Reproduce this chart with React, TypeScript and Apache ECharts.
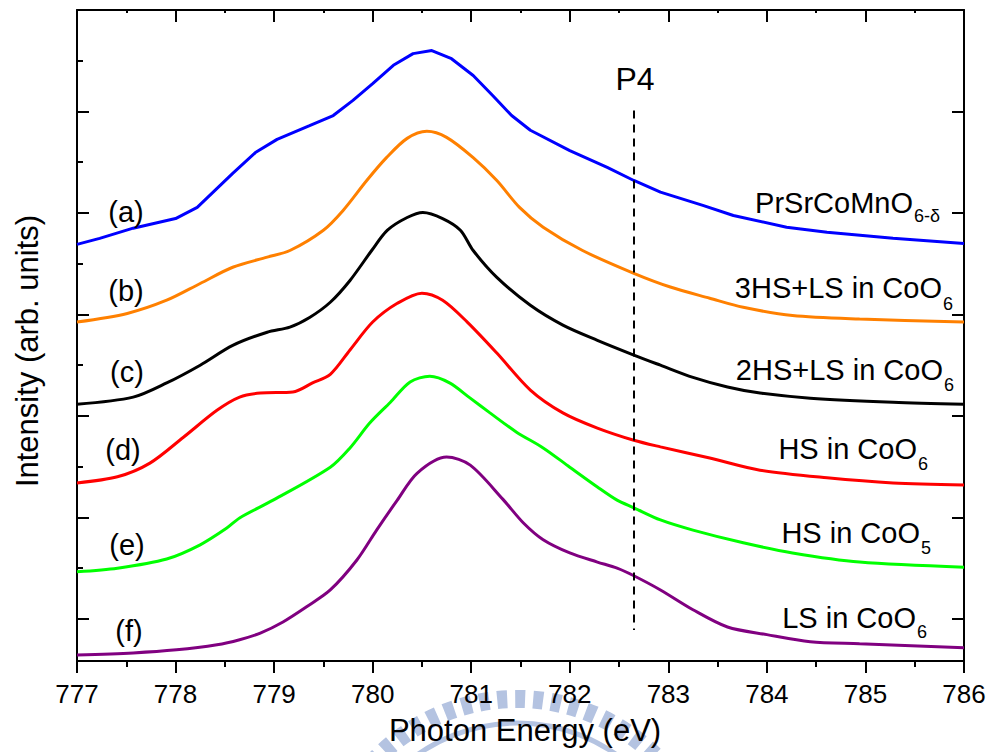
import React, { useEffect, useRef } from "react";
import * as echarts from "echarts";

// ---- data (Photon energy eV, intensity arb. units, offset stacked) ----
const energyA = [777.0, 777.23, 777.57, 778.0, 778.22, 778.58, 778.81, 779.03, 779.36, 779.6, 779.8, 780.0, 780.21, 780.41, 780.6, 780.8, 781.02, 781.22, 781.41, 781.6, 782.0, 782.38, 782.65, 782.92, 783.35, 783.66, 784.2, 784.61, 785.28, 786.0];
const intensityA = [7.38, 7.5, 7.7, 7.89, 8.11, 8.78, 9.19, 9.45, 9.72, 9.92, 10.22, 10.55, 10.91, 11.14, 11.2, 11.04, 10.71, 10.31, 9.92, 9.63, 9.23, 8.9, 8.64, 8.41, 8.15, 7.95, 7.72, 7.62, 7.5, 7.4];

const energyB = [777.0, 777.51, 777.91, 778.25, 778.58, 778.93, 779.16, 779.5, 779.7, 779.94, 780.14, 780.35, 780.55, 780.75, 781.02, 781.26, 781.49, 781.73, 782.13, 782.65, 783.02, 783.42, 783.76, 784.26, 784.94, 786.0];
const intensityB = [5.85, 6.02, 6.28, 6.61, 6.93, 7.13, 7.26, 7.66, 8.05, 8.64, 9.09, 9.47, 9.61, 9.49, 9.09, 8.64, 8.11, 7.72, 7.26, 6.81, 6.54, 6.32, 6.14, 5.98, 5.91, 5.85];

const energyC = [777.0, 777.57, 777.91, 778.25, 778.58, 778.93, 779.16, 779.36, 779.57, 779.77, 779.99, 780.15, 780.35, 780.51, 780.71, 780.89, 781.02, 781.26, 781.6, 781.93, 782.28, 782.65, 782.92, 783.25, 783.6, 783.93, 784.44, 785.28, 786.0];
const intensityC = [4.23, 4.37, 4.65, 5.0, 5.39, 5.65, 5.75, 5.94, 6.24, 6.67, 7.26, 7.66, 7.91, 8.01, 7.89, 7.66, 7.26, 6.73, 6.18, 5.79, 5.49, 5.2, 5.0, 4.76, 4.57, 4.45, 4.35, 4.27, 4.23];

const energyD = [777.0, 777.41, 777.74, 778.08, 778.42, 778.65, 778.86, 779.19, 779.39, 779.57, 779.77, 780.0, 780.25, 780.5, 780.71, 780.96, 781.26, 781.6, 781.93, 782.28, 782.65, 782.92, 783.42, 783.93, 784.61, 785.28, 786.0];
const intensityD = [2.68, 2.8, 3.07, 3.58, 4.11, 4.37, 4.45, 4.47, 4.65, 4.82, 5.3, 5.85, 6.22, 6.42, 6.28, 5.85, 5.24, 4.51, 4.06, 3.76, 3.52, 3.39, 3.17, 2.93, 2.78, 2.68, 2.64];

const energyE = [777.0, 777.41, 777.91, 778.25, 778.52, 778.65, 778.99, 779.57, 779.77, 779.97, 780.18, 780.38, 780.58, 780.78, 780.99, 781.19, 781.46, 781.73, 782.0, 782.28, 782.48, 782.65, 782.92, 783.25, 783.76, 784.26, 784.94, 786.0];
const intensityE = [0.93, 1.0, 1.18, 1.46, 1.79, 1.99, 2.34, 2.99, 3.37, 3.86, 4.27, 4.67, 4.78, 4.65, 4.35, 4.06, 3.68, 3.37, 2.99, 2.6, 2.34, 2.19, 1.95, 1.75, 1.5, 1.3, 1.12, 1.02];

const energyF = [777.0, 777.57, 778.01, 778.42, 778.65, 778.86, 779.09, 779.33, 779.57, 779.84, 780.04, 780.25, 780.45, 780.75, 780.99, 781.32, 781.53, 781.73, 782.0, 782.28, 782.48, 782.65, 782.92, 783.25, 783.6, 784.0, 784.44, 784.94, 786.0];
const intensityF = [-0.71, -0.67, -0.61, -0.51, -0.41, -0.28, -0.06, 0.24, 0.57, 1.16, 1.75, 2.34, 2.87, 3.19, 3.03, 2.36, 1.89, 1.56, 1.3, 1.12, 1.0, 0.85, 0.57, 0.18, -0.16, -0.31, -0.45, -0.49, -0.57];

const seriesColors = ["#0000ff", "#ff8000", "#000000", "#ff0000", "#00ff00", "#800080"];
const seriesTags = ["(a)", "(b)", "(c)", "(d)", "(e)", "(f)"];
const seriesNames = ["PrSrCoMnO", "3HS+LS in CoO", "2HS+LS in CoO", "HS in CoO", "HS in CoO", "LS in CoO"];
const seriesSubs = ["6-δ", "6", "6", "6", "5", "6"];

const xTicks = [777, 778, 779, 780, 781, 782, 783, 784, 785, 786];
const yMajorTicks = [0, 2, 4, 6, 8, 10];
const yMinorTicks = [1, 3, 5, 7, 9, 11];
const yMin = -0.83;
const yMax = 12;

const p4Energy = 782.65;
const p4Top = 10.02;
const p4Bottom = -0.22;

const FONT = "'Liberation Sans', Arial, Helvetica, sans-serif";

const pairs = (xs: number[], ys: number[]) => xs.map((x, i) => [x, ys[i]]);

export default function App() {
  const ref = useRef<HTMLDivElement>(null);

  useEffect(() => {
    if (!ref.current) return;
    const chart = echarts.init(ref.current, null, { renderer: "svg" });

    const datasets = [
      pairs(energyA, intensityA),
      pairs(energyB, intensityB),
      pairs(energyC, intensityC),
      pairs(energyD, intensityD),
      pairs(energyE, intensityE),
      pairs(energyF, intensityF),
    ];

    const series: any[] = datasets.map((d, i) => ({
      type: "line",
      name: seriesTags[i],
      data: d,
      showSymbol: false,
      smooth: i === 0 ? false : 0.3,
      lineStyle: { color: seriesColors[i], width: 3 },
      itemStyle: { color: seriesColors[i] },
      xAxisIndex: 0,
      yAxisIndex: 0,
      z: 3,
    }));

    series[5].markLine = {
      silent: true,
      symbol: ["none", "none"],
      label: { show: false },
      lineStyle: { color: "#000", width: 2, type: [8, 6] },
      data: [[{ coord: [p4Energy, p4Top] }, { coord: [p4Energy, p4Bottom] }]],
    };

    // label positions (pixels)
    const tagPos = [
      [126, 212], [126, 291], [127, 372], [123, 450], [127, 545], [129, 631],
    ];
    const namePos = [
      [913, 203, 914, 216],
      [942, 288, 943, 304],
      [943, 370, 944, 385],
      [917, 449, 918, 464],
      [920, 533, 921, 548],
      [916, 618, 917, 632],
    ];

    const textEl = (x: number, y: number, text: string, size: number, align: string, extra: any = {}) => ({
      type: "text",
      x,
      y,
      z: 20,
      silent: true,
      ...extra,
      style: {
        text,
        fill: "#000",
        font: `${size}px ${FONT}`,
        fontSize: size,
        fontFamily: FONT,
        align,
        textAlign: align,
        verticalAlign: "middle",
        textVerticalAlign: "middle",
      },
    });

    const graphics: any[] = [];
    // watermark
    graphics.push({
      type: "arc",
      z: 0,
      silent: true,
      shape: { cx: 517, cy: 895, r: 196, startAngle: Math.PI, endAngle: 2 * Math.PI },
      style: { stroke: "#b4c3e1", fill: null, lineWidth: 18, lineDash: [10, 8] },
    });
    graphics.push({
      type: "arc",
      z: 0,
      silent: true,
      shape: { cx: 517, cy: 895, r: 172, startAngle: Math.PI, endAngle: 2 * Math.PI },
      style: { stroke: "#b4c3e1", fill: null, lineWidth: 5 },
    });

    seriesTags.forEach((t, i) => graphics.push(textEl(tagPos[i][0], tagPos[i][1], t, 29, "center")));
    seriesNames.forEach((n, i) => {
      const p = namePos[i];
      graphics.push(textEl(p[0], p[1], n, 29, "right"));
      graphics.push(textEl(p[2], p[3], seriesSubs[i], 18, "left"));
    });
    graphics.push(textEl(635, 79, "P4", 32, "center"));
    graphics.push(textEl(525, 730, "Photon Energy (eV)", 31, "center"));
    graphics.push(textEl(27, 351, "Intensity (arb. units)", 31, "center", { rotation: Math.PI / 2 }));

    const axisLine = { show: true, onZero: false, lineStyle: { color: "#000", width: 2 } };

    chart.setOption({
      animation: false,
      backgroundColor: "#fff",
      grid: { left: 77, right: 26, top: 10, bottom: 91, containLabel: false },
      xAxis: [
        {
          type: "value",
          position: "bottom",
          min: xTicks[0],
          max: xTicks[xTicks.length - 1],
          interval: 1,
          axisLine,
          axisTick: { show: true, inside: false, length: 12, lineStyle: { color: "#000", width: 2 } },
          minorTick: { show: true, splitNumber: 2, length: 6, lineStyle: { color: "#000", width: 2 } },
          axisLabel: { show: true, fontSize: 26, color: "#000", fontFamily: FONT, margin: 20 },
          splitLine: { show: false },
        },
        {
          type: "value",
          position: "top",
          min: xTicks[0],
          max: xTicks[xTicks.length - 1],
          interval: 1,
          axisLine,
          axisTick: { show: true, inside: true, length: 12, lineStyle: { color: "#000", width: 2 } },
          minorTick: { show: true, splitNumber: 2, length: 3, lineStyle: { color: "#000", width: 2 } },
          axisLabel: { show: false },
          splitLine: { show: false },
        },
      ],
      yAxis: [
        {
          type: "value",
          position: "left",
          min: yMin,
          max: yMax,
          axisLine,
          axisTick: { show: true, inside: true, length: 12, customValues: yMajorTicks, lineStyle: { color: "#000", width: 2 } },
          axisLabel: { show: false },
          splitLine: { show: false },
        },
        {
          type: "value",
          position: "left",
          min: yMin,
          max: yMax,
          axisLine: { show: false, onZero: false },
          axisTick: { show: true, inside: true, length: 6, customValues: yMinorTicks, lineStyle: { color: "#000", width: 2 } },
          axisLabel: { show: false },
          splitLine: { show: false },
        },
        {
          type: "value",
          position: "right",
          min: yMin,
          max: yMax,
          axisLine,
          axisTick: { show: true, inside: true, length: 12, customValues: yMajorTicks, lineStyle: { color: "#000", width: 2 } },
          axisLabel: { show: false },
          splitLine: { show: false },
        },
      ],
      series,
      graphic: graphics,
    });

    return () => chart.dispose();
  }, []);

  return (
    <div
      ref={ref}
      style={{ position: "fixed", left: 0, top: 0, width: 990, height: 752, background: "#fff" }}
    />
  );
}
